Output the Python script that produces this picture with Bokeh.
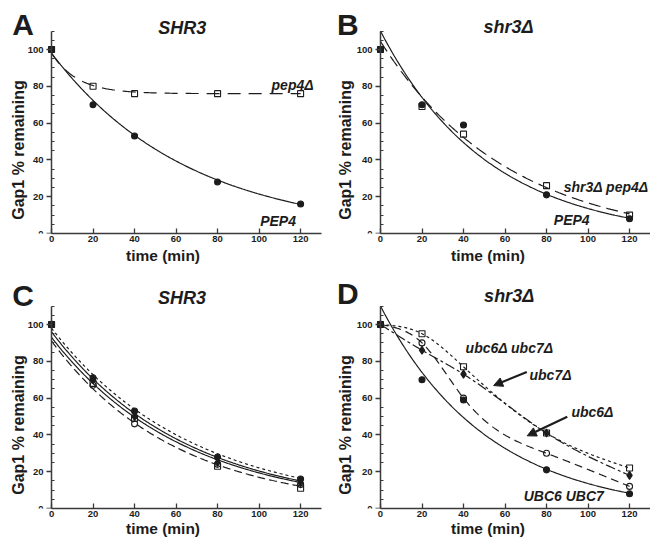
import numpy as np
from bokeh.plotting import figure
from bokeh.layouts import gridplot
from bokeh.models import Label, Arrow, NormalHead, FixedTicker, Range1d, LinearAxis
from bokeh.embed import file_html
from bokeh.resources import INLINE

# ---------------- data ----------------
time_pts = [0, 20, 40, 80, 120]
x_ticks = [0, 20, 40, 60, 80, 100, 120]
y_ticks = [0, 20, 40, 60, 80, 100]
y_minor = [5, 10, 15, 25, 30, 35, 45, 50, 55, 65, 70, 75, 85, 90, 95, 105, 110]

# Panel A (SHR3)
A_PEP4 = [100, 70, 53, 28, 16]
A_pep4d = [100, 80, 76, 76, 76]
A_PEP4_fit = [98, 0.0152, 0]      # y = a*exp(-k t) + c
A_pep4d_fit = [22, 0.08, 76]

# Panel B (shr3 delta)
B_PEP4 = [100, 70, 59, 21, 8]
B_pep4d = [100, 69, 54, 26, 10]
B_PEP4_fit = [113, 0.0192, -3]
B_pep4d_fit = [109.4, 0.0162, -5]

# Panel C (SHR3, ubc strains)
C_wt = [100, 71, 53, 28, 16]
C_ubc7 = [100, 70, 50, 25, 14]
C_ubc6 = [100, 67, 46, 24, 13]
C_ubc67 = [100, 68, 49, 23, 11]
C_fit_short = [98, 0.0149, 0]
C_fit_solid1 = [96, 0.0155, 0]
C_fit_solid2 = [93, 0.0157, 0]
C_fit_long = [91, 0.0168, 0]

# Panel D (shr3 delta, ubc strains)
D_wt = [100, 70, 59, 21, 8]
D_ubc6 = [100, 90, 60, 30, 12]
D_ubc7 = [100, 86, 73, 41, 18]
D_ubc67 = [100, 95, 77, 41, 22]
D_wt_fit = [113, 0.0192, -3]

INK = "#1c1c1c"
AXIS = "#3a3a3a"
FONT = "Liberation Sans"

t_grid = np.linspace(0, 120, 241)


def expfit(params):
    a, k, c = params
    return a * np.exp(-k * t_grid) + c


def natural_spline(xs, ys, xq):
    xs = np.asarray(xs, float)
    ys = np.asarray(ys, float)
    n = len(xs)
    h = np.diff(xs)
    A = np.zeros((n, n))
    r = np.zeros(n)
    A[0, 0] = 1
    A[-1, -1] = 1
    for i in range(1, n - 1):
        A[i, i - 1] = h[i - 1]
        A[i, i] = 2 * (h[i - 1] + h[i])
        A[i, i + 1] = h[i]
        r[i] = 6 * ((ys[i + 1] - ys[i]) / h[i] - (ys[i] - ys[i - 1]) / h[i - 1])
    M = np.linalg.solve(A, r)
    out = np.empty_like(xq)
    for j, x in enumerate(xq):
        i = min(np.searchsorted(xs, x, side="right") - 1, n - 2)
        i = max(i, 0)
        dx1 = xs[i + 1] - x
        dx0 = x - xs[i]
        out[j] = (M[i] * dx1 ** 3 / (6 * h[i]) + M[i + 1] * dx0 ** 3 / (6 * h[i])
                  + (ys[i] / h[i] - M[i] * h[i] / 6) * dx1
                  + (ys[i + 1] / h[i] - M[i + 1] * h[i] / 6) * dx0)
    return out


def make_fig(height, border_bottom, x_start, x_end, y_end, xlabel_standoff, ylabel_standoff):
    p = figure(width=325, height=height, output_backend="svg", toolbar_location=None,
               x_range=Range1d(x_start, x_end), y_range=Range1d(0, y_end),
               min_border_left=0, min_border_right=0,
               min_border_top=0, min_border_bottom=border_bottom)
    p.xgrid.visible = False
    p.ygrid.visible = False
    p.outline_line_color = None
    p.background_fill_color = "white"
    p.border_fill_color = "white"
    xa = p.xaxis[0]
    ya = p.yaxis[0]
    ya.fixed_location = 0
    ya.bounds = (0, 110)
    xa.bounds = (0, 130)
    xa.ticker = FixedTicker(ticks=x_ticks, minor_ticks=[])
    ya.ticker = FixedTicker(ticks=y_ticks, minor_ticks=y_minor)
    xa.major_tick_in = 5
    xa.major_tick_out = 0
    xa.minor_tick_in = 0
    xa.minor_tick_out = 0
    ya.major_tick_in = 0
    ya.major_tick_out = 5
    ya.minor_tick_in = 3
    ya.minor_tick_out = 0
    for ax in (xa, ya):
        ax.axis_line_color = AXIS
        ax.axis_line_width = 1.5
        ax.major_tick_line_color = AXIS
        ax.major_tick_line_width = 1.3
        ax.minor_tick_line_color = AXIS
        ax.minor_tick_line_width = 1.1
        ax.major_label_text_font = FONT
        ax.major_label_text_font_style = "bold"
        ax.major_label_text_font_size = "9.5px"
        ax.major_label_text_color = INK
        ax.axis_label_text_font = FONT
        ax.axis_label_text_font_style = "bold"
        ax.axis_label_text_color = INK
    xa.axis_label = "time (min)"
    xa.axis_label_text_font_size = "15.5px"
    xa.major_label_standoff = 2
    xa.axis_label_standoff = xlabel_standoff
    ya.major_label_standoff = 3
    # separate label-only axis so the title sits where the reference puts it
    la = LinearAxis(fixed_location=0, bounds=(0, 91), ticker=FixedTicker(ticks=[], minor_ticks=[]),
                    axis_line_color=None, major_tick_line_color=None, minor_tick_line_color=None,
                    major_tick_out=0, major_tick_in=0, minor_tick_out=0, minor_tick_in=0,
                    axis_label="Gap1 % remaining", axis_label_text_font=FONT,
                    axis_label_text_font_style="bold", axis_label_text_font_size="16px",
                    axis_label_text_color=INK, axis_label_standoff=ylabel_standoff)
    p.add_layout(la, "left")
    return p


def add_text(p, x, y, text, size, style="bold italic", align="left", baseline="middle"):
    p.add_layout(Label(x=x, y=y, text=text, text_font=FONT, text_font_style=style,
                       text_font_size=size, text_color=INK, text_align=align,
                       text_baseline=baseline))


def series(p, ys, marker, size, filled):
    p.scatter(time_pts, ys, marker=marker, size=size, line_color=INK, line_width=1.1,
              fill_color=INK if filled else None, fill_alpha=1 if filled else 0)


def curve(p, ys, dash="solid", width=1.2):
    p.line(t_grid, ys, line_color=INK, line_width=width, line_dash=dash)


SCALE_Y = 1.84
TOP_H, TOP_B = 270, 37
BOT_H, BOT_B = 269, 31
TOP_YEND = (TOP_H - TOP_B) / SCALE_Y
BOT_YEND = (BOT_H - BOT_B) / SCALE_Y
L_XS, L_XE = -24.6, 132.0
R_XS, R_XE = -26.5, 130.1
LAB = "14px"

# ---------------- Panel A ----------------
pA = make_fig(TOP_H, TOP_B, L_XS, L_XE, TOP_YEND, 2, 25)
curve(pA, expfit(A_PEP4_fit))
curve(pA, expfit(A_pep4d_fit), "13 8")
series(pA, A_PEP4, "circle", 6, True)
series(pA, A_pep4d, "square", 6, False)
add_text(pA, -13.7, 113.7, "A", "30px", "bold", "center")
add_text(pA, 63, 111.5, "SHR3", "18px", align="center")
add_text(pA, 106, 80.5, "pep4\u0394", LAB)
add_text(pA, 100.5, 7, "PEP4", LAB)

# ---------------- Panel B ----------------
pB = make_fig(TOP_H, TOP_B, R_XS, R_XE, TOP_YEND, 2, 27)
curve(pB, expfit(B_PEP4_fit))
curve(pB, expfit(B_pep4d_fit), "12 6")
series(pB, B_PEP4, "circle", 6, True)
series(pB, B_pep4d, "square", 6, False)
add_text(pB, -15.7, 113.7, "B", "30px", "bold", "center")
add_text(pB, 61.7, 112, "shr3\u0394", "18px", align="center")
add_text(pB, 88.3, 25.3, "shr3\u0394 pep4\u0394", LAB)
add_text(pB, 83.5, 7.3, "PEP4", LAB)

# ---------------- Panel C ----------------
pC = make_fig(BOT_H, BOT_B, L_XS, L_XE, BOT_YEND, 0, 25)
curve(pC, expfit(C_fit_short), "3 3")
curve(pC, expfit(C_fit_solid1))
curve(pC, expfit(C_fit_solid2))
curve(pC, expfit(C_fit_long), "8 4")
series(pC, C_ubc6, "circle", 6, False)
series(pC, C_ubc67, "square", 6, False)
series(pC, C_ubc7, "diamond", 8, True)
series(pC, C_wt, "circle", 6, True)
add_text(pC, -13.7, 115.8, "C", "30px", "bold", "center")
add_text(pC, 62.8, 114.6, "SHR3", "18px", align="center")

# ---------------- Panel D ----------------
pD = make_fig(BOT_H, BOT_B, R_XS, R_XE, BOT_YEND, 0, 27)
curve(pD, expfit(D_wt_fit))
curve(pD, natural_spline(time_pts, D_ubc6, t_grid), "8 5")
curve(pD, natural_spline(time_pts, D_ubc7, t_grid), "10 3 3 3")
curve(pD, natural_spline(time_pts, D_ubc67, t_grid), "3 3")
series(pD, D_ubc6, "circle", 6, False)
series(pD, D_ubc67, "square", 6, False)
series(pD, D_ubc7, "diamond", 8, True)
series(pD, D_wt, "circle", 6, True)
add_text(pD, -15.7, 117, "D", "30px", "bold", "center")
add_text(pD, 62, 115.5, "shr3\u0394", "18px", align="center")
add_text(pD, 41, 87.4, "ubc6\u0394 ubc7\u0394", LAB)
add_text(pD, 71.8, 72.7, "ubc7\u0394", LAB)
add_text(pD, 92, 52.3, "ubc6\u0394", LAB)
add_text(pD, 69, 6.7, "UBC6 UBC7", LAB)
for (x0, y0, x1, y1) in [(70.5, 74.2, 54.5, 66.8), (90.0, 49.9, 70.7, 39.5)]:
    pD.add_layout(Arrow(end=NormalHead(size=9, fill_color=INK, line_color=INK),
                        x_start=x0, y_start=y0, x_end=x1, y_end=y1,
                        line_color=INK, line_width=2.2))

grid = gridplot([[pA, pB], [pC, pD]], toolbar_location=None)
open("out.html", "w").write(file_html(grid, INLINE))
